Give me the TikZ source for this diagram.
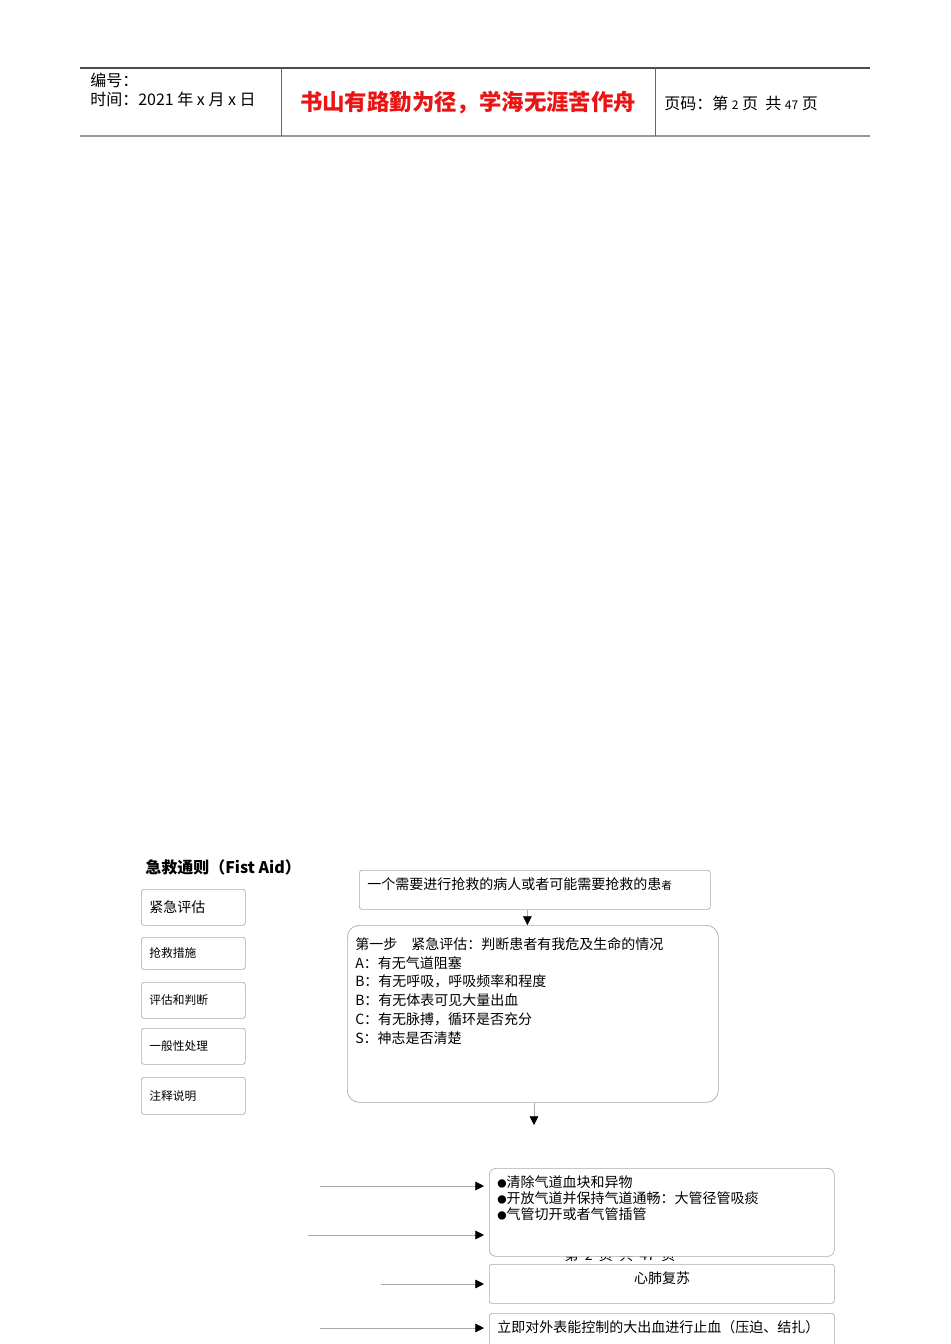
\documentclass[tikz,border=0pt]{standalone}
\usepackage{fontspec}
\setmainfont{Noto Sans CJK SC}
\usetikzlibrary{arrows.meta}
\definecolor{boxgray}{RGB}{170,170,170}
\definecolor{headred}{RGB}{235,20,20}
\newcommand{\dotmark}{{\fontsize{7}{8}\selectfont ●}}

\begin{document}
\begin{tikzpicture}[x=0.75pt,y=-0.75pt]
        \tikzstyle{every node}=[inner sep=0pt, anchor=west, font=\fontsize{10.5}{12}\selectfont]
        \tikzstyle{head}=[font=\fontsize{12}{14}\selectfont]
        \tikzstyle{box}=[draw=boxgray, line width=0.5pt, rounded corners=2pt, anchor=north west, fill=white]
        \tikzstyle{side}=[box, minimum width=78pt, text width=66pt, inner xsep=6pt, align=left, font=\fontsize{8.8}{10}\selectfont]
        \tikzstyle{flow}=[draw=boxgray, line width=0.5pt, -{Triangle[black, length=6.5pt, width=6.5pt]}]
        \useasboundingbox (0,0) rectangle (950,1344);
        \clip (0,0) rectangle (950,1344);

        % header
        \draw[line width=0.8pt, black!70] (80,68) -- (870,68);
        \draw[line width=1.5pt, black!40] (80,136) -- (870,136);
        \draw[line width=0.6pt, black!60] (281,68) -- (281,136) (655,68) -- (655,136);
        \node[head] (serial) at (90,80) {编号：};
        \node[head] (date) at (90,99) {时间：2021 年 x 月 x 日};
        \node[anchor=center, text=headred, font=\fontsize{16.8}{18}\selectfont\bfseries] (motto) at (468,103) {书山有路勤为径，学海无涯苦作舟};
        \node[head] (pageno) at (664,103) {页码：第 {\fontsize{9}{10}\selectfont 2} 页\ \ 共 {\fontsize{9}{10}\selectfont 47} 页};

        \node[font=\fontsize{12}{14}\selectfont\bfseries] (title) at (145,867) {急救通则（Fist Aid）};

        \node[side, minimum height=27pt, font=\fontsize{10.5}{12}\selectfont] (assess) at (141,889) {紧急评估};
        \node[side, minimum height=24pt] (rescue) at (141,937) {抢救措施};
        \node[side, minimum height=27pt] (judge) at (141,982) {评估和判断};
        \node[side, minimum height=27pt] (general) at (141,1028) {一般性处理};
        \node[side, minimum height=27.75pt] (notes) at (141,1077) {注释说明};

        \node[box, minimum width=263.25pt, minimum height=29.25pt] (patient) at (359,870) {};
        \node (patienttxt) at (367,884) {一个需要进行抢救的病人或者可能需要抢救的患{\fontsize{8}{9}\selectfont 者}};

        \node[box, rounded corners=9pt, minimum width=278.25pt, minimum height=132.75pt] (step) at (347,925) {};
        \node[anchor=north west, align=left, font=\fontsize{10.5}{14.1}\selectfont] (steptxt) at (355,937)
            {第一步\hspace{1em}紧急评估：判断患者有我危及生命的情况\\A：有无气道阻塞\\B：有无呼吸，呼吸频率和程度\\B：有无体表可见大量出血\\C：有无脉搏，循环是否充分\\S：神志是否清楚};

        \draw[flow] ([xshift=-5.6pt]patient.south) -- ([xshift=-5.6pt]patient.south |- step.north);
        \coordinate (next) at (534,1125);
        \draw[flow] (step.south -| next) -- (next);

        \node[anchor=center] (footer) at (620,1255) {第\ \ 2\ \ 页\ \ 共\ \ 47\ \ 页};

        \node[box, rounded corners=5pt, minimum width=258.75pt, minimum height=66pt] (airway) at (489,1168) {};
        \node[anchor=north west, align=left] (airwaytxt) at (497,1175) {\dotmark 清除气道血块和异物\\\dotmark 开放气道并保持气道通畅：大管径管吸痰\\\dotmark 气管切开或者气管插管};
        \node[box, minimum width=258.75pt, minimum height=29.25pt] (cpr) at (489,1264) {};
        \node[anchor=center] (cprtxt) at (662,1278) {心肺复苏};
        \node[box, minimum width=258.75pt, minimum height=30pt] (bleed) at (489,1313) {};
        \node (bleedtxt) at (497,1327) {立即对外表能控制的大出血进行止血（压迫、结扎）};

        \coordinate (a1) at (320,1186);
        \coordinate (a2) at (308,1235);
        \coordinate (a3) at (381,1284);
        \coordinate (a4) at (320,1328);
        \draw[flow, shorten >=3.75pt] (a1) -- (a1 -| airway.west);
        \draw[flow, shorten >=3.75pt] (a2) -- (a2 -| airway.west);
        \draw[flow, shorten >=3.75pt] (a3) -- (a3 -| cpr.west);
        \draw[flow, shorten >=3.75pt] (a4) -- (a4 -| bleed.west);
\end{tikzpicture}
\end{document}
